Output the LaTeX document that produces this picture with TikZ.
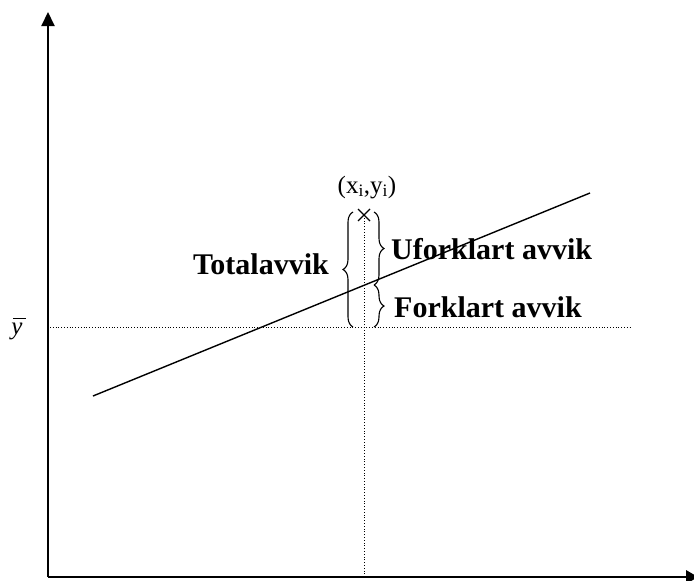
\documentclass[tikz,border=0pt]{standalone}
\usepackage{fontspec}
\setmainfont{Liberation Serif}
\usetikzlibrary{arrows.meta,decorations.pathreplacing}
\begin{document}
\begin{tikzpicture}[x=1pt,y=-1pt,
  axis/.style={line width=2pt,-{Triangle[width=13pt,length=14pt]}},
  dotline/.style={line width=0.8pt,dotted},
  brc/.style={line width=1.1pt,decorate,decoration={brace,amplitude=10pt}},
  lbl/.style={font=\fontsize{30}{32}\selectfont\bfseries,inner sep=0pt}]
\useasboundingbox (0,0) rectangle (694,581);
\coordinate (O) at (48,577);
\coordinate (ytop) at (48,12);
\draw[axis] (O) -- (ytop);
\draw[line width=2pt] (O) -- (690,577);
\fill (686,570) -- (698,577) -- (686,584) -- cycle;
\coordinate (hb0) at (50,327);
\coordinate (hb1) at (632,327);
\draw[dotline] (hb0) -- (hb1);
\coordinate (v0) at (364,577);
\coordinate (P) at (364,215);
\draw[dotline] (v0) -- (P);
\coordinate (r0) at (93,396);
\coordinate (r1) at (590,193);
\draw[line width=1.4pt] (r0) -- (r1);
\draw[line width=1.2pt] (P) ++(-6,-6) -- ++(12,12) (P) ++(-6,6) -- ++(12,-12);
\node[font=\fontsize{25}{27}\selectfont,inner sep=0pt,anchor=base] (pt) at (367,193) {(x\textsubscript{i},y\textsubscript{i})};
\node[font=\fontsize{25}{27}\selectfont\itshape,inner sep=0pt,anchor=base] (yb) at (17,334) {y};
\draw[line width=1pt] (13,318) -- (26,318);
\draw[brc] (353,327) -- (353,212);
\draw[brc] (374,212) -- (374,285);
\draw[brc] (374,285) -- (374,327);
\node[lbl,anchor=base east] (tot) at (329,274) {Totalavvik};
\node[lbl,anchor=base west] (ufo) at (391,259) {Uforklart avvik};
\node[lbl,anchor=base west] (fork) at (394,317) {Forklart avvik};
\end{tikzpicture}
\end{document}
